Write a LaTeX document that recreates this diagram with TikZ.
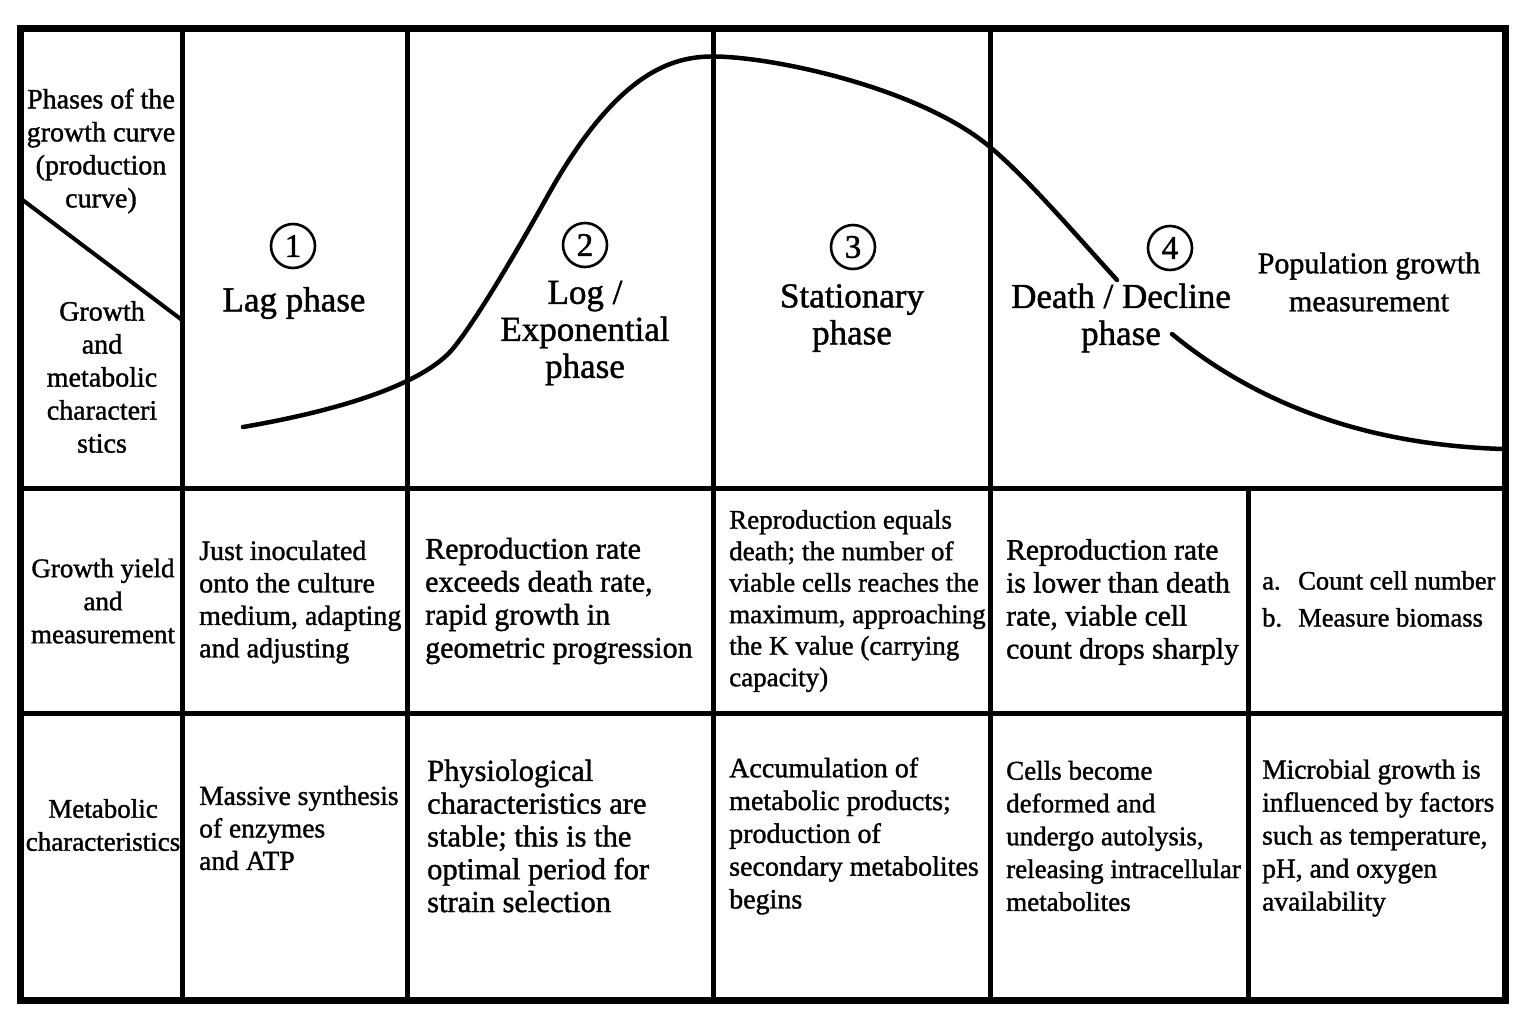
\documentclass[tikz,border=0pt]{standalone}
\usepackage{fontspec}
\setmainfont{Liberation Serif}[RawFeature={embolden=1.3}]
\begin{document}
\begin{tikzpicture}[x=1pt,y=-1pt,
  frame/.style={line width=7pt},
  gridline/.style={line width=5pt},
  curveline/.style={line width=4.5pt, line cap=round},
  body/.style={align=left, anchor=west, inner sep=0pt},
  head/.style={font=\fontsize{35}{37}\selectfont, align=center, inner sep=0pt},
  lab/.style={font=\fontsize{27}{33}\selectfont, align=center, inner sep=0pt},
  num/.style={circle, draw, line width=2.6pt, inner sep=0pt, minimum size=44pt, font=\fontsize{33}{33}\selectfont}]
\useasboundingbox[fill=white] (0,0) rectangle (1525,1031);

% growth curve
\coordinate (c0) at (243,427);
\coordinate (c1) at (447,355);
\coordinate (c2) at (547,197);
\coordinate (c3) at (713,56.5);
\coordinate (c4) at (990,147);
\coordinate (c5) at (1117,280);
\coordinate (c6) at (1172,334);
\coordinate (c7) at (1503,449);
\draw[curveline] (c0) .. controls (313,415) and (407,392.6) .. (c1)
  .. controls (467,336.2) and (517,251) .. (c2)
  .. controls (617,71) and (673,56.5) .. (c3)
  .. controls (773,56.5) and (920,88) .. (c4)
  .. controls (1030,180.6) and (1077,236.4) .. (c5);
\draw[curveline] (c6) .. controls (1262,408) and (1373,445) .. (c7);

% grid
\draw[gridline] (182,28) -- (182,1000);
\draw[gridline] (407,28) -- (407,1000);
\draw[gridline] (713,28) -- (713,1000);
\draw[gridline] (990,28) -- (990,1000);
\draw[gridline] (1248,488) -- (1248,1000);
\draw[gridline] (20,488) -- (1505,488);
\draw[gridline] (20,713) -- (1505,713);
\draw[gridline, line width=4pt] (20,198) -- (182,320);
\draw[frame] (20,28) rectangle (1505,1000);

% left column labels
\node[lab, font=\fontsize{28}{33}\selectfont] (hphase) at (101,151) {Phases of the\\growth curve\\(production\\curve)};
\node[lab, font=\fontsize{28}{33}\selectfont] (hgm) at (102,377) {Growth\\and\\metabolic\\characteri\\stics};
\node[lab] (hyield) at (103,601) {Growth yield\\and\\measurement};
\node[lab] (hmeta) at (103,825) {Metabolic\\characteristics};

% phase headings
\node[num] (n1) at (293,246) {1};
\node[num] (n2) at (585,245) {2};
\node[num] (n3) at (853,247) {3};
\node[num] (n4) at (1170,248) {4};
\node[head] (lag) at (294,303) {Lag phase};
\node[head] (log) at (585,333) {Log /\\Exponential\\phase};
\node[head] (stat) at (852,318) {Stationary\\phase};
\node[head] (death) at (1121,318) {Death / Decline\\phase};
\node[lab, font=\fontsize{30}{38}\selectfont] (pop) at (1369,282) {Population growth\\measurement};

% row 2: growth yield
\node[body, font=\fontsize{28}{32.5}\selectfont] (r2c1) at (199,602) {Just inoculated\\onto the culture\\medium, adapting\\and adjusting};
\node[body, font=\fontsize{30}{33}\selectfont] (r2c2) at (425,601) {Reproduction rate\\exceeds death rate,\\rapid growth in\\geometric progression};
\node[body, font=\fontsize{27}{31.5}\selectfont] (r2c3) at (729,601) {Reproduction equals\\death; the number of\\viable cells reaches the\\maximum, approaching\\the K value (carrying\\capacity)};
\node[body, font=\fontsize{29.5}{33}\selectfont] (r2c4) at (1006,602) {Reproduction rate\\is lower than death\\rate, viable cell\\count drops sharply};
\node[body, font=\fontsize{26.5}{37}\selectfont] (r2c5) at (1262,599) {\makebox[36pt][l]{a.}Count cell number\\\makebox[36pt][l]{b.}Measure biomass};

% row 3: metabolic characteristics
\node[body, font=\fontsize{27.5}{32.5}\selectfont] (r3c1) at (199,828) {Massive synthesis\\of enzymes\\and ATP};
\node[body, font=\fontsize{30.5}{32.8}\selectfont] (r3c2) at (427,836) {Physiological\\characteristics are\\stable; this is the\\optimal period for\\strain selection};
\node[body, font=\fontsize{28}{32.8}\selectfont] (r3c3) at (729,836) {Accumulation of\\metabolic products;\\production of\\secondary metabolites\\begins};
\node[body, font=\fontsize{27}{32.8}\selectfont] (r3c4) at (1006,836) {Cells become\\deformed and\\undergo autolysis,\\releasing intracellular\\metabolites};
\node[body, font=\fontsize{27.5}{33}\selectfont] (r3c5) at (1262,838) {Microbial growth is\\influenced by factors\\such as temperature,\\pH, and oxygen\\availability};
\end{tikzpicture}
\end{document}
